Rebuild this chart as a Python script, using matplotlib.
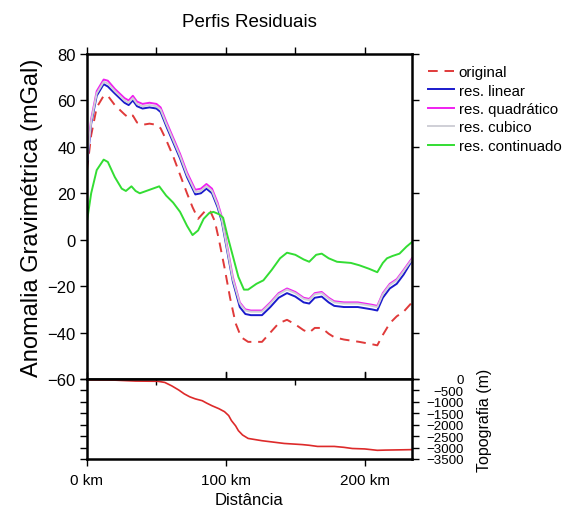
import matplotlib
matplotlib.use("Agg")
import matplotlib.pyplot as plt
from matplotlib.ticker import MultipleLocator, FixedLocator, FuncFormatter

plt.rcParams['font.family'] = ['Liberation Sans', 'DejaVu Sans']

# ---- data ----
km_lin = [0, 3, 7, 12, 15, 20, 27, 30, 33, 36, 40, 45, 50, 53, 57, 62, 67, 72, 78, 82, 86, 90, 94, 97,
          101, 105, 110, 114, 118, 126, 132, 138, 144, 150, 156, 160, 164, 169, 174, 178, 185, 195, 205,
          209, 213, 218, 223, 228, 234]
res_linear = [32, 50, 62, 67, 66, 63, 59, 58, 60, 57.5, 56.5, 57, 56.5, 55, 49, 42, 35, 27, 19.5, 20, 22, 20, 14, 8,
              -5, -18, -29, -32, -32.5, -32.5, -29, -25, -23, -24.5, -27, -27.5, -25, -24.5, -27, -28.5, -29, -29, -30,
              -30.5, -25, -21, -19, -15, -9]
res_quadratico = [35, 52, 64, 69, 68.5, 65, 61, 60, 62, 59.5, 58.5, 59, 58.5, 57, 51, 44, 37, 29, 21.5, 22, 24, 22, 16, 10,
                  -3, -16, -27, -30, -30.5, -30.5, -27, -23, -21, -22.5, -25, -25.5, -23, -22.5, -25, -26.5, -27, -27, -28,
                  -28.5, -23, -19, -17, -13, -8]
res_cubico = [33.5, 51, 63, 68, 67.3, 64, 60, 59, 61, 58.5, 57.5, 58, 57.5, 56, 50, 43, 36, 28, 20.5, 21, 23, 21, 15, 9,
              -4, -17, -27.5, -30.5, -31, -31, -27.5, -23.5, -21.5, -23, -25.5, -26, -23.5, -23, -25.5, -27, -27.5, -27.5, -28.5,
              -29, -23.5, -19.5, -17.5, -13.5, -8.5]

km_orig = [0, 3, 7, 12, 15, 20, 27, 30, 33, 36, 40, 45, 50, 53, 57, 62, 67, 72, 76, 80, 83, 86, 89, 92, 95,
           99, 103, 107, 111, 116, 126, 132, 138, 144, 150, 156, 160, 164, 169, 174, 178, 185, 196, 205, 209,
           213, 218, 223, 228, 234]
original = [30, 45, 57, 62, 62, 58, 54, 52.5, 53.5, 50.5, 49.5, 50, 49.5, 48, 43, 36, 28, 20, 14, 9, 11, 13, 12, 8, 0,
            -12, -25, -36, -42, -44, -44, -40, -36, -34.5, -36.5, -39, -40, -38, -38, -40.5, -42, -43, -44, -45, -45.5,
            -41, -36, -33, -31, -27]

km_cont = [0, 3, 7, 12, 15, 20, 25, 28, 32, 35, 38, 45, 52, 57, 62, 67, 72, 76, 80, 84, 88, 91, 95, 98,
           101, 105, 109, 113, 116, 122, 127, 133, 139, 144, 150, 156, 160, 165, 169, 174, 180, 190, 196, 203,
           209, 213, 216, 220, 225, 230, 234]
res_continuado = [8, 20, 30, 34.5, 33.5, 27, 22, 21, 23, 21, 20, 21.5, 23, 19, 16, 12, 6, 2, 4, 9, 11.5, 12, 11, 9.5,
                  2, -7, -16, -21.5, -21.5, -19, -17.5, -13, -8, -5.6, -6.5, -8.5, -9.5, -6.5, -6, -8, -9.5, -10, -11, -12.5,
                  -14, -10, -8, -7, -6, -3, -1]

km_topo = [0, 20, 35, 51, 56, 61, 66, 70, 74, 78, 83, 86, 90, 95, 99, 102, 104, 107, 109, 112, 116, 120, 126, 134,
           142, 155, 160, 166, 178, 185, 191, 200, 209, 215, 225, 234]
topografia = [-40, -50, -90, -100, -150, -300, -480, -650, -780, -870, -950, -1050, -1170, -1300, -1430, -1600,
              -1820, -2050, -2260, -2450, -2600, -2640, -2700, -2760, -2820, -2870, -2900, -2950, -2950, -2990, -3040,
              -3060, -3120, -3110, -3100, -3090]

labels = ['original', 'res. linear', 'res. quadrático', 'res. cubico', 'res. continuado']

fig = plt.figure(figsize=(5.76, 5.10), dpi=100)
ax = fig.add_axes([87/576, 1-380/510, 325/576, 325/510])
axb = fig.add_axes([87/576, 1-460/510, 325/576, 80/510])

lw = 1.4
kw = dict(solid_joinstyle='round', dash_joinstyle='round')
ax.plot(km_orig, original, color='#e03a3a', lw=lw, dashes=(5, 3.5), label=labels[0], **kw)
ax.plot(km_lin, res_linear, color='#1a1acc', lw=lw, label=labels[1], **kw)
ax.plot(km_lin, res_quadratico, color='#f020f0', lw=lw, label=labels[2], **kw)
ax.plot(km_lin, res_cubico, color='#cfcfd6', lw=lw, label=labels[3], **kw)
ax.plot(km_cont, res_continuado, color='#33dd33', lw=lw, label=labels[4], **kw)

ax.set_xlim(0, 234)
ax.set_ylim(-60, 80)
ax.yaxis.set_major_locator(MultipleLocator(20))
ax.xaxis.set_major_locator(MultipleLocator(50))
ax.tick_params(axis='y', which='both', direction='out', left=True, right=True, labelright=False,
               length=5, width=1, labelsize=12, pad=3)
ax.tick_params(axis='x', which='both', direction='out', top=True, bottom=False, labelbottom=False,
               length=5, width=1)
for s in ax.spines.values():
    s.set_linewidth(1.8)
ax.set_title('Perfis Residuais', fontsize=13.5, pad=20)
ax.set_ylabel('Anomalia Gravimétrica (mGal)', fontsize=17, labelpad=3)

leg = fig.legend(loc='upper left', bbox_to_anchor=(422/576, 1-60/510), frameon=False,
                 fontsize=10.8, handlelength=1.7, handletextpad=0.35, labelspacing=0.3, borderaxespad=0)

# bottom panel
axb.plot(km_topo, topografia, color='#dd2a2a', lw=1.2, **kw)
axb.set_xlim(0, 234)
axb.set_ylim(-3500, 0)
axb.xaxis.set_major_locator(FixedLocator([0, 100, 200]))
axb.xaxis.set_minor_locator(FixedLocator([50, 150]))
axb.xaxis.set_major_formatter(FuncFormatter(lambda v, p: f'{int(v)} km'))
axb.tick_params(axis='x', which='major', direction='out', length=5, width=1, labelsize=11, pad=5)
axb.tick_params(axis='x', which='major', top=True, labeltop=False)
axb.tick_params(axis='x', which='minor', top=True, bottom=False, direction='in', length=4, width=1)
axb.yaxis.set_major_locator(MultipleLocator(500))
axb.yaxis.set_major_formatter(FuncFormatter(lambda v, p: f'{int(v)}'.replace('-', '\u2212')))
axb.tick_params(axis='y', which='major', direction='out', left=True, right=True, labelleft=False,
                labelright=True, length=5, width=1, labelsize=9.6, pad=32)
for t in axb.get_yticklabels():
    t.set_horizontalalignment('right')
for s in axb.spines.values():
    s.set_linewidth(1.8)
axb.set_xlabel('Distância', fontsize=12, labelpad=4)
fig.text(485/576, 1-420/510, 'Topografia (m)', rotation=90, ha='center', va='center', fontsize=11.5)

# major ticks crossing the shared boundary
for x in [100, 200]:
    ax.plot([x, x], [-60, -57], color='black', lw=1, clip_on=False)

fig.savefig('out.png', dpi=100)
